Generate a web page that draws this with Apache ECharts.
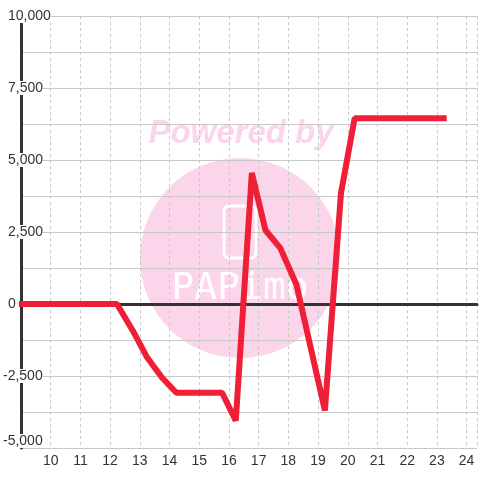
<!DOCTYPE html>
<html>
<head>
<meta charset="utf-8">
<script src="https://cdn.jsdelivr.net/npm/echarts@6/dist/echarts.min.js"></script>
<style>
  html, body { margin: 0; padding: 0; background: #fff; }
  #chart { width: 480px; height: 480px; }
</style>
</head>
<body>
<div id="chart"></div>
<script>
// hour of day (x) and balance (y)
const hours = [8.93, 12.23, 12.75, 13.23, 13.75, 14.23, 15.77, 16.23, 16.77, 17.23, 17.73, 18.27, 19.23, 19.77, 20.23, 23.33]
const values = [0, 0, -900, -1830, -2560, -3080, -3080, -4050, 4550, 2560, 1940, 680, -3700, 3840, 6450, 6450]
const xTicks = [10, 11, 12, 13, 14, 15, 16, 17, 18, 19, 20, 21, 22, 23, 24]
const yTicks = [-5000, -2500, 0, 2500, 5000, 7500, 10000]

const pink = '#fbd5ea'
const labelFont = 'Liberation Sans, Arial, sans-serif'

const chart = echarts.init(document.getElementById('chart'))

chart.setOption({
  animation: false,
  backgroundColor: '#fff',
  grid: {
    left: 20,
    right: 0,
    top: 16,
    bottom: 32
  },
  graphic: [
    {
      type: 'circle',
      z: -10,
      silent: true,
      shape: { cx: 240, cy: 258, r: 100 },
      style: { fill: pink }
    },
    {
      type: 'text',
      z: -10,
      silent: true,
      x: 241,
      y: 134,
      style: {
        text: 'Powered by',
        font: 'italic bold 33px Liberation Sans, Arial, sans-serif',
        fill: pink,
        align: 'center',
        verticalAlign: 'middle'
      }
    },
    {
      type: 'rect',
      z: -9,
      silent: true,
      shape: { x: 224, y: 206, width: 32, height: 52, r: 5 },
      style: { fill: 'none', stroke: '#fff', lineWidth: 3 }
    },
    {
      type: 'text',
      z: -9,
      silent: true,
      x: 240,
      y: 289,
      style: {
        text: 'PAPimo',
        font: '38px DejaVu Sans Mono, monospace',
        fill: '#fff',
        align: 'center',
        verticalAlign: 'middle'
      }
    }
  ],
  xAxis: [
    {
      type: 'value',
      min: 9,
      max: 24.35,
      interval: 1,
      axisLine: { show: false, onZero: false },
      axisTick: { show: false },
      axisLabel: {
        margin: 6,
        color: '#333',
        fontSize: 14,
        fontFamily: labelFont,
        formatter: function (v) {
          return xTicks.indexOf(v) >= 0 ? String(v) : ''
        }
      },
      splitLine: {
        show: true,
        lineStyle: { color: '#c8c8c8', type: [3, 3], width: 1 }
      }
    },
    {
      // dark zero line
      type: 'value',
      min: 9,
      max: 24.35,
      position: 'bottom',
      axisLine: { show: true, onZero: true, lineStyle: { color: '#333', width: 3 } },
      axisTick: { show: false },
      axisLabel: { show: false },
      splitLine: { show: false }
    }
  ],
  yAxis: {
    type: 'value',
    min: -5000,
    max: 10000,
    interval: 2500,
    axisLine: { show: true, onZero: false, lineStyle: { color: '#333', width: 3 } },
    axisTick: { show: false },
    minorTick: { show: false, splitNumber: 2 },
    minorSplitLine: { show: true, lineStyle: { color: '#c8c8c8', width: 1 } },
    splitLine: { show: true, lineStyle: { color: '#c8c8c8', width: 1 } },
    axisLabel: {
      align: 'left',
      margin: 18,
      color: '#333',
      fontSize: 14,
      fontFamily: labelFont,
      backgroundColor: '#fff',
      verticalAlignMinLabel: 'bottom',
      formatter: function (v) {
        if (yTicks.indexOf(v) < 0) return ''
        const txt = v.toLocaleString('en-US')
        return v < 0 ? '{n|' + txt + '}' : '{p|' + txt + '}'
      },
      rich: {
        n: { color: '#333', fontSize: 14, fontFamily: labelFont },
        p: { color: '#333', fontSize: 14, fontFamily: labelFont, padding: [0, 0, 0, 5] }
      }
    }
  },
  series: [
    {
      type: 'line',
      xAxisIndex: 0,
      z: 3,
      clip: false,
      showSymbol: false,
      symbol: 'none',
      data: hours.map((h, i) => [h, values[i]]),
      lineStyle: { color: '#ee1f36', width: 6 }
    }
  ]
})
</script>
</body>
</html>
